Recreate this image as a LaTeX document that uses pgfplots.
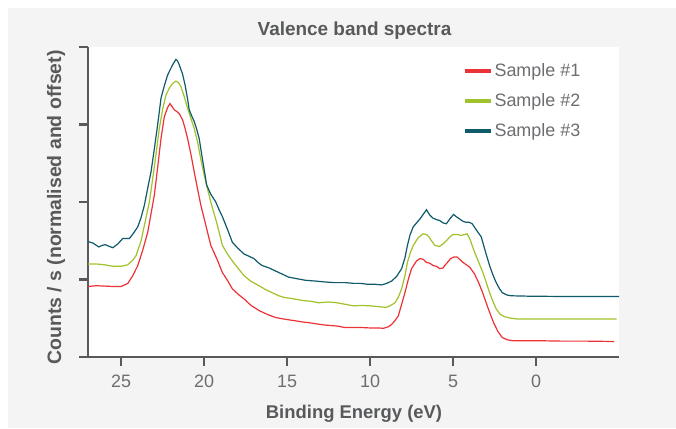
\documentclass[border=0pt]{standalone}
\usepackage{fontspec}
\setmainfont{Liberation Sans}
\usepackage{pgfplots}
\usepackage{pgfplotstable}
\pgfplotsset{compat=1.18}
\definecolor{bggrey}{HTML}{F4F4F4}
\definecolor{axgrey}{HTML}{58595B}
\definecolor{tkgrey}{HTML}{6D6E71}
\definecolor{sred}{HTML}{ED3237}
\definecolor{sgreen}{HTML}{A0C22A}
\definecolor{sblue}{HTML}{0F5A6B}

\pgfplotstableread{
x y
27.0 0.91
26.5 0.92
26.0 0.915
25.5 0.91
25.0 0.91
24.6 0.95
24.3 1.05
24.0 1.18
23.7 1.38
23.4 1.61
23.2 1.85
23.0 2.09
22.8 2.45
22.6 2.82
22.4 3.10
22.2 3.22
22.06 3.27
21.9 3.22
21.8 3.19
21.6 3.16
21.5 3.14
21.3 3.06
21.15 2.95
21.0 2.82
20.8 2.62
20.6 2.39
20.4 2.17
20.2 1.96
19.9 1.70
19.6 1.44
19.2 1.25
18.9 1.09
18.6 0.99
18.3 0.88
17.9 0.80
17.6 0.75
17.2 0.67
16.7 0.60
16.2 0.55
15.7 0.51
15.2 0.49
14.6 0.47
14.0 0.45
13.6 0.44
13.0 0.42
12.6 0.41
12.0 0.40
11.5 0.38
11.0 0.38
10.5 0.38
10.0 0.375
9.5 0.375
9.2 0.37
8.9 0.39
8.7 0.42
8.5 0.47
8.3 0.53
8.1 0.68
7.9 0.83
7.7 1.00
7.5 1.14
7.2 1.24
7.0 1.27
6.8 1.26
6.6 1.22
6.4 1.21
6.2 1.18
6.0 1.17
5.8 1.14
5.6 1.15
5.5 1.18
5.3 1.23
5.15 1.27
4.95 1.29
4.76 1.29
4.6 1.26
4.4 1.22
4.2 1.19
4.0 1.16
3.7 1.07
3.46 0.96
3.2 0.82
2.94 0.66
2.75 0.55
2.55 0.44
2.3 0.33
2.03 0.25
1.7 0.22
1.38 0.21
0.5 0.21
-0.2 0.21
-1.5 0.205
-3.0 0.205
-4.7 0.20
}\sone

\pgfplotstableread{
x y
27.0 1.20
26.5 1.20
26.0 1.19
25.5 1.17
25.0 1.17
24.6 1.19
24.3 1.25
24.1 1.31
23.8 1.50
23.6 1.70
23.3 2.00
23.1 2.30
22.9 2.62
22.7 2.95
22.5 3.20
22.3 3.38
22.1 3.47
21.9 3.53
21.7 3.56
21.55 3.54
21.4 3.49
21.2 3.36
21.0 3.21
20.8 3.08
20.6 2.95
20.4 2.78
20.2 2.55
20.0 2.35
19.8 2.17
19.6 2.00
19.2 1.70
18.9 1.44
18.6 1.33
18.3 1.24
17.9 1.13
17.6 1.05
17.2 0.98
16.7 0.92
16.3 0.87
15.9 0.83
15.5 0.79
15.2 0.77
14.6 0.75
14.1 0.73
13.6 0.72
13.1 0.70
12.5 0.71
12.0 0.70
11.5 0.68
11.0 0.66
10.5 0.665
10.0 0.66
9.5 0.65
9.05 0.64
8.8 0.66
8.5 0.70
8.3 0.77
8.1 0.88
7.9 1.05
7.75 1.22
7.6 1.33
7.4 1.44
7.1 1.54
6.8 1.59
6.6 1.58
6.45 1.55
6.3 1.50
6.1 1.44
5.9 1.43
5.8 1.43
5.6 1.46
5.4 1.50
5.2 1.55
5.0 1.58
4.75 1.58
4.5 1.57
4.3 1.58
4.16 1.59
4.0 1.53
3.85 1.44
3.7 1.35
3.45 1.22
3.2 1.09
3.0 0.96
2.8 0.83
2.6 0.72
2.4 0.62
2.15 0.55
1.9 0.52
1.5 0.50
1.1 0.49
-1.0 0.49
-3.0 0.49
-4.85 0.49
}\stwo

\pgfplotstableread{
x y
27.0 1.49
26.7 1.47
26.35 1.42
26.15 1.44
25.96 1.45
25.75 1.43
25.5 1.41
25.2 1.46
24.9 1.53
24.5 1.53
24.25 1.60
24.0 1.68
23.8 1.80
23.6 1.96
23.4 2.18
23.2 2.39
23.0 2.69
22.8 3.00
22.6 3.34
22.4 3.50
22.2 3.64
21.9 3.77
21.7 3.84
21.6 3.82
21.5 3.77
21.3 3.65
21.15 3.51
21.0 3.33
20.9 3.19
20.75 3.11
20.6 3.04
20.45 2.94
20.3 2.82
20.1 2.55
19.85 2.22
19.6 2.10
19.3 2.00
19.1 1.90
18.9 1.81
18.6 1.65
18.3 1.48
18.0 1.41
17.6 1.33
17.3 1.30
17.0 1.27
16.7 1.21
16.5 1.18
16.1 1.15
15.7 1.11
15.3 1.07
14.9 1.03
14.4 1.01
13.9 0.99
13.3 0.98
12.8 0.97
12.2 0.96
11.5 0.96
11.0 0.95
10.6 0.95
10.2 0.94
9.8 0.94
9.3 0.93
9.0 0.95
8.7 0.98
8.4 1.04
8.1 1.14
7.9 1.28
7.75 1.44
7.6 1.57
7.4 1.68
7.2 1.73
7.0 1.78
6.8 1.84
6.6 1.90
6.4 1.83
6.2 1.79
5.95 1.77
5.8 1.76
5.6 1.73
5.4 1.72
5.2 1.78
4.97 1.84
4.8 1.81
4.6 1.78
4.4 1.75
4.24 1.74
4.05 1.74
3.85 1.72
3.6 1.64
3.3 1.55
3.05 1.36
2.8 1.18
2.6 1.06
2.4 0.96
2.2 0.88
2.03 0.83
1.75 0.80
1.5 0.79
0.5 0.785
-2.0 0.78
-5.0 0.78
}\sthree

\begin{document}
\begin{tikzpicture}[x=1bp,y=1bp]
\fill[white] (0,0) rectangle (676,428);
\fill[bggrey] (8,0) rectangle (676,420);
\begin{axis}[
  at={(88bp,71bp)}, anchor=south west,
  scale only axis, width=531bp, height=310bp,
  x dir=reverse,
  xmin=-5, xmax=27, ymin=0, ymax=4,
  axis background/.style={fill=white},
  axis x line=bottom, axis y line=left,
  axis line style={draw=axgrey, line width=2.5bp, -},
  xtick={0,5,10,15,20,25},
  ytick={0,1,2,3,4}, yticklabels={},
  tick align=outside,
  major tick length=9bp,
  tick style={draw=axgrey, line width=2.5bp},
  /pgf/number format/assume math mode=true,
  xticklabel style={font=\fontsize{18}{18}\selectfont, text=tkgrey, anchor=base, yshift=-21bp},
  legend cell align=left,
  legend style={draw=none, fill=none, at={(0.705,0.953)}, anchor=north west,
    font=\fontsize{18}{18}\selectfont, text=tkgrey, row sep=11.5bp, inner sep=0pt},
  legend image code/.code={\draw[line width=4bp] (0bp,0bp) -- (26bp,0bp);},
  clip=false,
]
\addplot[sred, line width=1.2bp] table[x=x,y=y] {\sone};
\addlegendentry{Sample \#1}
\addplot[sgreen, line width=1.2bp] table[x=x,y=y] {\stwo};
\addlegendentry{Sample \#2}
\addplot[sblue, line width=1.2bp] table[x=x,y=y] {\sthree};
\addlegendentry{Sample \#3}
\end{axis}
\node[anchor=base, text=axgrey, font=\fontsize{19}{19}\selectfont\bfseries] at (354.5,392) {Valence band spectra};
\node[anchor=base, text=axgrey, font=\fontsize{18.5}{18.5}\selectfont\bfseries] at (354,10) {Binding Energy (eV)};
\node[anchor=base, rotate=90, text=axgrey, font=\fontsize{19.5}{19.5}\selectfont\bfseries] at (61,220.5) {Counts / s (normalised and offset)};
\end{tikzpicture}
\end{document}
